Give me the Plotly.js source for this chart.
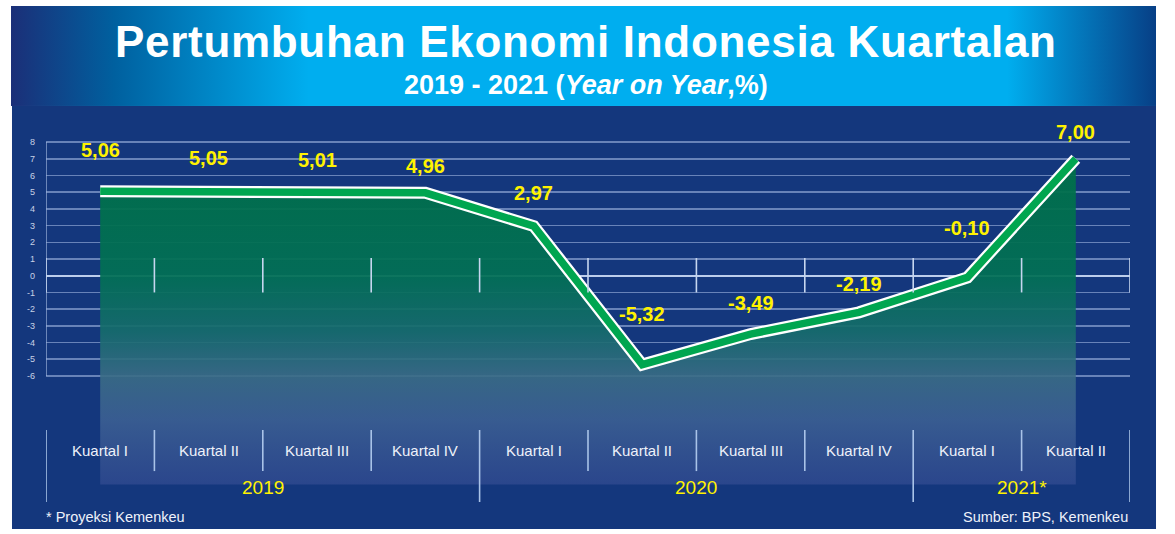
<!DOCTYPE html>
<html><head><meta charset="utf-8">
<script src="https://cdn.plot.ly/plotly-3.0.1.min.js"></script>
<style>html,body{margin:0;padding:0;background:#ffffff;}#chart{width:1175px;height:534px;}</style>
</head><body><div id="chart"></div>
<script>
// ---- data ----
const quarterLabels = ['Kuartal I','Kuartal II','Kuartal III','Kuartal IV','Kuartal I','Kuartal II','Kuartal III','Kuartal IV','Kuartal I','Kuartal II'];
const yearLabels = ['2019','2020','2021*'];
const yearFirstIdx = [0,4,8];
const yearLastIdx = [3,7,9];
const growth = [5.06,5.05,5.01,4.96,2.97,-5.32,-3.49,-2.19,-0.10,7.00];
const yTickVals = [-6,-5,-4,-3,-2,-1,0,1,2,3,4,5,6,7,8];
const titleText = 'Pertumbuhan Ekonomi Indonesia Kuartalan';
const subtitleText = '2019 - 2021 (<i>Year on Year</i>,%)';
const noteLeft = '* Proyeksi Kemenkeu';
const noteRight = 'Sumber: BPS, Kemenkeu';

// ---- style ----
const labelLift = [41,33,32,27,33,51,31,28,49,27];
const SANS = '"Liberation Sans",Arial,sans-serif';
const xs = growth.map((_, i) => i);
const FILL_BOTTOM = -12.5;

const traces = [
  {x: xs, y: xs.map(() => FILL_BOTTOM), mode: 'lines', line: {width: 0}, hoverinfo: 'skip', showlegend: false},
  {x: xs, y: growth, mode: 'lines', fill: 'tonexty',
   fillgradient: {type: 'vertical', start: FILL_BOTTOM, stop: 7,
     colorscale: [[0,'rgba(50,75,145,0.75)'],[0.2,'rgba(62,98,148,0.85)'],[0.33,'rgba(58,108,134,0.9)'],[0.47,'rgba(22,108,108,0.92)'],[0.64,'rgba(2,111,85,0.94)'],[1,'rgba(0,112,72,0.95)']]},
   line: {color: '#ffffff', width: 12}, hoverinfo: 'skip', showlegend: false},
  {x: xs, y: growth, mode: 'lines', line: {color: '#00a650', width: 7.5}, hoverinfo: 'skip', showlegend: false}
];

const annotations = [];
growth.forEach((v, i) => {
  annotations.push({x: i, y: v, xref: 'x', yref: 'y', text: v.toFixed(2).replace('.', ','), showarrow: false,
    yshift: labelLift[i], yanchor: 'middle', font: {family: SANS, size: 20, color: '#fff200', weight: 'bold'}});
});
quarterLabels.forEach((q, i) => {
  annotations.push({x: i, y: -10.43, xref: 'x', yref: 'y', text: q, showarrow: false, yanchor: 'middle',
    font: {family: SANS, size: 15, color: '#eef2fa'}});
});
yearLabels.forEach((t, k) => {
  annotations.push({x: (yearFirstIdx[k] + yearLastIdx[k]) / 2, y: -12.65, xref: 'x', yref: 'y', text: t, showarrow: false, yanchor: 'middle',
    font: {family: SANS, size: 19, color: '#fff200'}});
});
annotations.push({x: -0.0018, y: -0.03, xref: 'paper', yref: 'paper', xanchor: 'left', yanchor: 'middle', text: noteLeft, showarrow: false,
  font: {family: SANS, size: 14.5, color: '#eef2fa'}});
annotations.push({x: 1, y: -0.03, xref: 'paper', yref: 'paper', xanchor: 'right', yanchor: 'middle', text: noteRight, showarrow: false,
  font: {family: SANS, size: 14.5, color: '#eef2fa'}});
annotations.push({x: 0.4982, y: 1.205, xref: 'paper', yref: 'paper', xanchor: 'center', yanchor: 'middle', showarrow: false,
  text: '<span style="letter-spacing:0.7px">' + titleText + '</span>',
  font: {family: SANS, size: 44, color: '#ffffff', weight: 'bold'}});
annotations.push({x: 0.4982, y: 1.092, xref: 'paper', yref: 'paper', xanchor: 'center', yanchor: 'middle', showarrow: false,
  text: subtitleText, font: {family: SANS, size: 27, color: '#ffffff', weight: 'bold'}});

const shapes = [];
// panel
shapes.push({type: 'rect', xref: 'paper', yref: 'paper', x0: -0.03137, x1: 1.02399, y0: -0.06234, y1: 1.03636,
  fillcolor: '#14377d', line: {width: 0}, layer: 'below'});
// y axis line
shapes.push({type: 'line', xref: 'x', yref: 'y', x0: -0.5, x1: -0.5, y0: -6, y1: 8, line: {color: 'rgba(170,190,228,0.75)', width: 1.6}, layer: 'below'});
for (let b = -0.5; b <= 9.5; b += 1) {
  shapes.push({type: 'line', xref: 'x', yref: 'y', x0: b, x1: b, y0: -1, y1: 1.06, line: {color: '#c6d6ef', width: 1.6}, layer: 'above'});
  const yearEdge = (b === -0.5 || b === 3.5 || b === 7.5 || b === 9.5);
  shapes.push({type: 'line', xref: 'x', yref: 'y', x0: b, x1: b, y0: yearEdge ? -13.54 : -11.69, y1: -9.23, line: {color: '#a9c3e8', width: 1.6}, layer: 'above'});
}

const bannerSvg = "<svg xmlns='http://www.w3.org/2000/svg' width='1145' height='100' preserveAspectRatio='none' viewBox='0 0 1145 100'>" +
  "<defs><linearGradient id='g' x1='0' y1='0' x2='1' y2='0'>" +
  "<stop offset='0' stop-color='#1b2f78'/><stop offset='0.09' stop-color='#00609f'/><stop offset='0.26' stop-color='#00aeef'/>" +
  "<stop offset='0.87' stop-color='#00aeef'/><stop offset='1' stop-color='#073f86'/></linearGradient></defs>" +
  "<rect width='1145' height='100' fill='url(#g)'/></svg>";

const layout = {
  width: 1175, height: 534,
  margin: {l: 46, r: 45, t: 120, b: 29, pad: 0},
  paper_bgcolor: '#ffffff', plot_bgcolor: 'rgba(0,0,0,0)',
  showlegend: false,
  xaxis: {range: [-0.5, 9.5], showgrid: false, zeroline: false, showticklabels: false, showline: false, ticks: '', fixedrange: true},
  yaxis: {range: [-13.72, 9.32], tickvals: yTickVals, ticktext: yTickVals.map(String), showgrid: true,
    gridcolor: 'rgba(160,182,225,0.6)', gridwidth: 1.6, zeroline: true, zerolinecolor: '#bccdec', zerolinewidth: 2,
    showline: false, ticks: '', ticklabelstandoff: 10,
    tickfont: {family: SANS, size: 9, color: '#c8d2e6'}, fixedrange: true},
  images: [{source: 'data:image/svg+xml;charset=utf-8,' + encodeURIComponent(bannerSvg), xref: 'paper', yref: 'paper',
    x: -0.0323, y: 1.2961, sizex: 1.0563, sizey: 0.2597, sizing: 'stretch', xanchor: 'left', yanchor: 'top', layer: 'below'}],
  shapes: shapes,
  annotations: annotations
};

Plotly.newPlot('chart', traces, layout, {displayModeBar: false, staticPlot: true});
</script>
</body></html>
